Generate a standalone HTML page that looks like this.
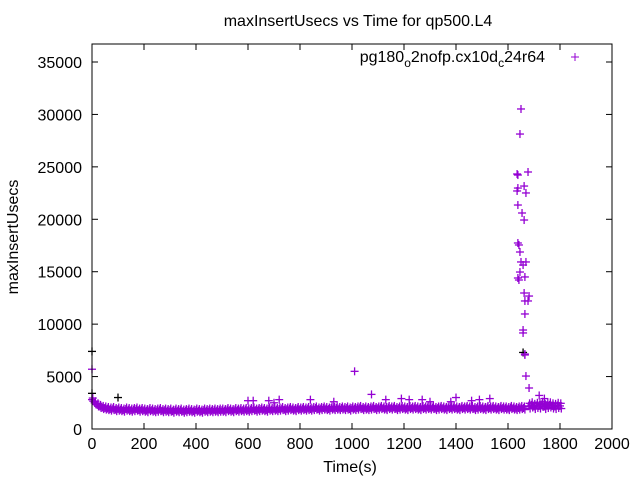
<!DOCTYPE html>
<html><head><meta charset="utf-8"><style>
body{margin:0;background:#fff}
svg text{font-family:"Liberation Sans",sans-serif;font-size:16px;fill:#000}
</style></head><body>
<svg id="chart" width="640" height="480">
<rect x="0" y="0" width="640" height="480" fill="#fff"/>
<text x="358" y="26" text-anchor="middle">maxInsertUsecs vs Time for qp500.L4</text>
<text x="350" y="472" text-anchor="middle">Time(s)</text>
<text transform="translate(18,237) rotate(-90)" text-anchor="middle">maxInsertUsecs</text>
<g id="axes"></g>
<g id="marks"></g>
<rect x="92" y="44" width="520" height="385" fill="none" stroke="#000"/>
<text x="545" y="62" text-anchor="end">pg180<tspan dy="5" font-size="12">o</tspan><tspan dy="-5">2nofp.cx10d</tspan><tspan dy="5" font-size="12">c</tspan><tspan dy="-5">24r64</tspan></text>
</svg>
<script>
const xTicks=[0,200,400,600,800,1000,1200,1400,1600,1800,2000];
const yTicks=[0,5000,10000,15000,20000,25000,30000,35000];
const baseValues=[2800,2500,2300,2150,2050,2000,1950,1900,1950,1850,1900,1850,1800,1900,1850,1800,1850,1900,1800,1850,1800,1750,1850,1800,1750,1800,1850,1750,1800,1750,1800,1700,1800,1750,1800,1700,1750,1800,1750,1700,1800,1750,1700,1800,1750,1800,1750,1800,1750,1800,1800,1750,1850,1800,1750,1850,1800,1850,1800,1850,1800,1850,1900,1800,1850,1900,1850,1800,1900,1850,1900,1850,1900,1950,1850,1900,1950,1900,1850,1950,1900,1950,1900,1950,1900,1950,2000,1900,1950,2000,1950,1900,2000,1950,2000,1950,2000,1950,2000,1900,2000,1950,2000,2050,1950,2000,1950,2000,2050,1950,2000,2050,2000,1950,2050,2000,2050,1950,2000,2050,2000,1950,2050,2000,2050,2000,1950,2050,2000,2050,2000,2050,1950,2000,2050,2000,1950,2050,2000,2050,2000,1950,2050,2000,2050,2000,2050,1950,2000,2050,2000,1950,2050,2000,2050,2000,1950,2050,2000,2000,1950,2050,2000,1950,2000,2050,2000];
const baseSpread=300;
const tailValues=[2200,2300,2150,2250,2200,2350,2150,2250,2300,2200,2150,2250,2200];
const tailTimes=[1680,1690,1700,1710,1720,1730,1740,1750,1760,1770,1780,1790,1800];
const outTimes=[0,600,620,680,700,720,840,930,1010,1075,1130,1190,1220,1270,1300,1380,1400,1460,1490,1530,1720,1740];
const outValues=[5700,2700,2700,2700,2500,2800,2800,2600,5500,3300,2800,2900,2800,2800,2600,2600,3000,2700,2800,2900,3200,2900];
const blackTimes=[0,0,100,1658];
const blackValues=[7400,3400,3000,7300];
const spikeTimes=[1650,1646,1635,1638,1677,1638,1662,1635,1669,1638,1654,1662,1638,1642,1646,1650,1669,1658,1646,1638,1642,1665,1662,1681,1677,1665,1665,1658,1658,1665,1665,1669,1681];
const spikeValues=[30520,28130,24320,24220,24510,22980,23170,22700,22510,21360,20600,19930,17740,17550,16880,15930,15930,15640,14970,14400,14210,14500,12970,12680,12210,12210,10970,9440,9160,7150,7060,5050,3910];
const X=t=>92+t*0.26, Y=v=>429-v*367/35000;
const NS='http://www.w3.org/2000/svg';
const axes=document.getElementById('axes'), marks=document.getElementById('marks');
function ln(g,x1,y1,x2,y2,c){const l=document.createElementNS(NS,'line');l.setAttribute('x1',x1);l.setAttribute('y1',y1);l.setAttribute('x2',x2);l.setAttribute('y2',y2);l.setAttribute('stroke',c);g.appendChild(l);return l;}
function txt(x,y,s,a){const t=document.createElementNS(NS,'text');t.setAttribute('x',x);t.setAttribute('y',y);t.setAttribute('text-anchor',a);t.textContent=s;axes.appendChild(t);return t;}
xTicks.forEach(v=>{const x=X(v);ln(axes,x,429,x,423,'#000');ln(axes,x,44,x,50,'#000');
 const t=txt(x,449,String(v),'middle');
 
 });
yTicks.forEach(v=>{const y=Y(v);ln(axes,92,y,98,y,'#000');ln(axes,612,y,606,y,'#000');
 const t=txt(82,y+6,String(v),'end');
 
 });
function plus(t,v,c){const g=document.createElementNS(NS,'g');const x=X(t),y=Y(v);
 ln(g,x-4,y,x+4,y,c);ln(g,x,y-4,x,y+4,c);
 g.setAttribute('stroke-width','1.3');
 
 
 marks.appendChild(g);}
blackValues.forEach((v,i)=>plus(blackTimes[i],v,'#000'));
baseValues.forEach((v,i)=>{const t=i*10;plus(t,v,'#9400d3');plus(t+5,v-baseSpread/2,'#9400d3');plus(t+3,v+baseSpread/2,'#9400d3');});
tailValues.forEach((v,i)=>{plus(tailTimes[i],v,'#9400d3');plus(tailTimes[i]+5,v-250,'#9400d3');plus(tailTimes[i]+3,v+250,'#9400d3');});
outValues.forEach((v,i)=>plus(outTimes[i],v,'#9400d3'));
spikeValues.forEach((v,i)=>plus(spikeTimes[i],v,'#9400d3'));
const k=document.createElementNS(NS,'g');
ln(k,571,57,579,57,'#9400d3');ln(k,575,53,575,61,'#9400d3');


document.getElementById('chart').appendChild(k);
</script>
</body></html>
